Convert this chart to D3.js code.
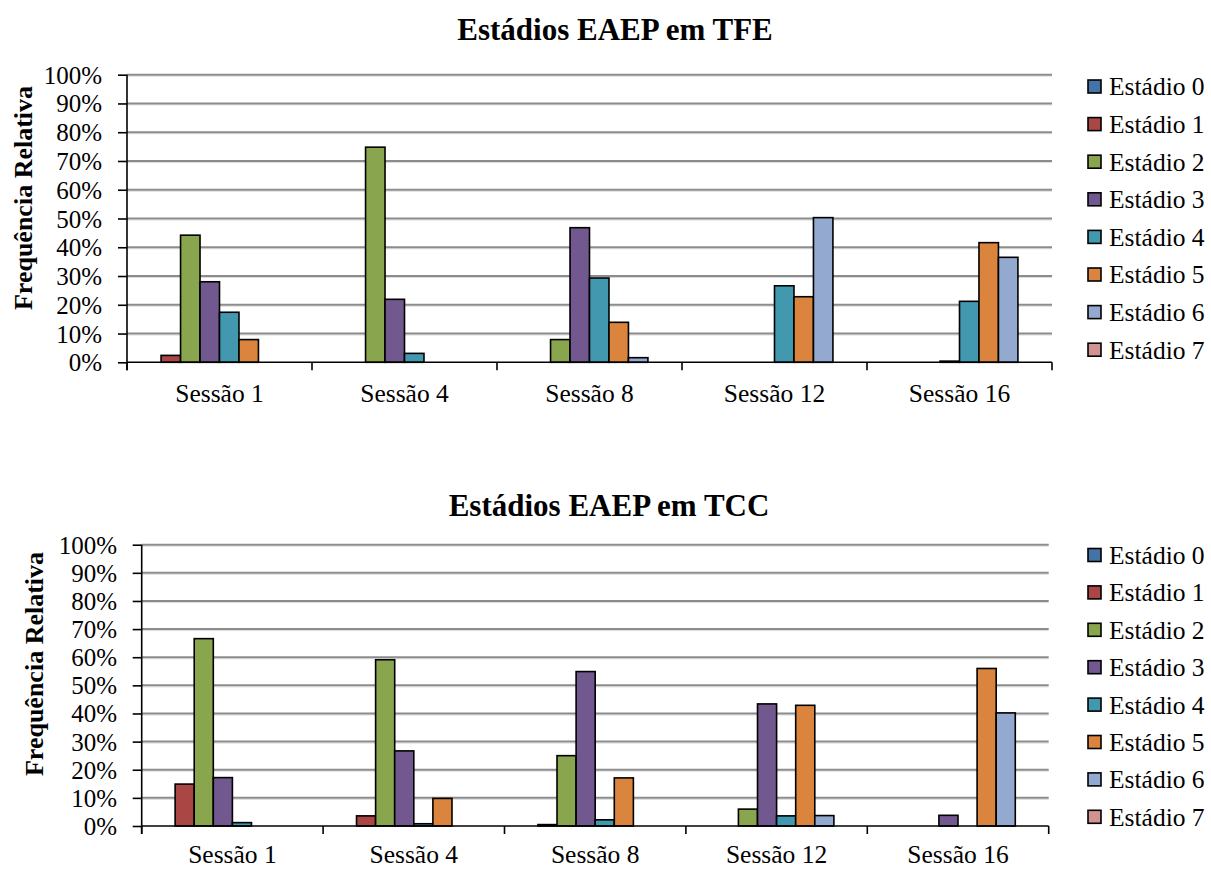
<!DOCTYPE html>
<html>
<head>
<meta charset="utf-8">
<script src="https://cdn.jsdelivr.net/npm/d3@7"></script>
<style>
  html, body { margin: 0; padding: 0; background: #fff; }
  svg { display: block; }
  svg text { font-family: "Liberation Serif", "Times New Roman", serif !important; fill: #000; }
</style>
</head>
<body>
<svg id="chart" width="1211" height="870" font-family="'Liberation Serif', 'Times New Roman', serif"></svg>
<script>
// ---------- DATA ----------
const sessions = ["Sessão 1", "Sessão 4", "Sessão 8", "Sessão 12", "Sessão 16"];
const stages = ["Estádio 0", "Estádio 1", "Estádio 2", "Estádio 3", "Estádio 4", "Estádio 5", "Estádio 6", "Estádio 7"];
const yTicks = [0, 10, 20, 30, 40, 50, 60, 70, 80, 90, 100];
const stageColors = ["#4572A7", "#AA4643", "#89A54E", "#71588F", "#4198AF", "#DB843D", "#93A9CF", "#D19392"];

// TFE: one row per stage, values per session (%)
const tfeValues = [
  [0, 0, 0, 0, 0],
  [2.4, 0, 0, 0, 0],
  [44.2, 74.8, 7.9, 0, 0],
  [28.0, 21.9, 46.8, 0, 0.4],
  [17.4, 3.1, 29.3, 26.6, 21.2],
  [7.9, 0, 13.9, 22.8, 41.6],
  [0, 0, 1.6, 50.3, 36.5],
  [0, 0, 0, 0, 0]
];
// TCC
const tccValues = [
  [0, 0, 0, 0, 0],
  [14.9, 3.6, 0.5, 0, 0],
  [66.6, 59.1, 25.0, 6.0, 0],
  [17.2, 26.7, 54.9, 43.4, 3.8],
  [1.2, 0.8, 2.2, 3.6, 0],
  [0, 9.8, 17.1, 42.9, 56.0],
  [0, 0, 0, 3.7, 40.2],
  [0, 0, 0, 0, 0]
];

// ---------- DRAW ----------
const FONT = '"Liberation Serif", "Times New Roman", serif';
const svg = d3.select("#chart");

function drawChart(cfg) {
  const g = svg.append("g").attr("font-family", FONT);
  const x = d3.scaleBand().domain(sessions).range([cfg.x0, cfg.x1]).paddingInner(0).paddingOuter(0);
  const xs = d3.scaleBand().domain(stages).range([0, x.bandwidth()]).paddingInner(0).paddingOuter(0.75);
  const y = d3.scaleLinear().domain([0, 100]).range([cfg.y1, cfg.y0]);

  // title
  g.append("text").attr("x", cfg.titleX).attr("y", cfg.titleY)
    .attr("text-anchor", "middle").attr("font-size", 31).attr("font-weight", "bold")
    .attr("font-family", FONT)
    .text(cfg.title);

  // gridlines
  const grid = g.append("g");
  yTicks.filter(t => t > 0).forEach(t => {
    grid.append("line").attr("x1", cfg.x0).attr("x2", cfg.x1)
      .attr("y1", y(t) + 1.5).attr("y2", y(t) + 1.5)
      .attr("stroke", "#dcdcdc").attr("stroke-width", 1);
    grid.append("line").attr("x1", cfg.x0).attr("x2", cfg.x1)
      .attr("y1", y(t)).attr("y2", y(t))
      .attr("stroke", "#8c8c8c").attr("stroke-width", 2);
  });

  // bars
  stages.forEach((s, si) => {
    const vals = cfg.values[si];
    g.append("g").selectAll("rect")
      .data(sessions.map((sess, i) => ({ sess, v: vals[i] })).filter(d => d.v > 0))
      .join("rect")
      .attr("x", d => x(d.sess) + xs(s))
      .attr("width", xs.bandwidth())
      .attr("y", d => y(d.v))
      .attr("height", d => y(0) - y(d.v))
      .attr("fill", stageColors[si])
      .attr("stroke", "#000")
      .attr("stroke-width", 1.6);
  });

  // y axis
  const yAxis = d3.axisLeft(y).tickValues(yTicks).tickFormat(d => d + "%").tickSize(9).tickPadding(0);
  const ya = g.append("g").attr("transform", `translate(${cfg.x0},0)`).call(yAxis);
  ya.attr("font-family", FONT);
  ya.select(".domain").attr("stroke", "#000").attr("stroke-width", 1.6)
    .attr("d", `M0,${cfg.y0}V${cfg.y1 + 8}`);
  ya.selectAll(".tick line").attr("stroke", "#000").attr("stroke-width", 1.6);
  ya.selectAll(".tick text").attr("font-size", 25)
    .attr("font-family", FONT)
    .attr("fill", "#000").attr("x", cfg.tickLabelRight - cfg.x0).attr("dy", "0.34em");

  // x axis
  const xa = g.append("g");
  xa.append("line").attr("x1", cfg.x0).attr("x2", cfg.x1).attr("y1", y(0)).attr("y2", y(0))
    .attr("stroke", "#000").attr("stroke-width", 1.6);
  const bounds = sessions.map(sname => x(sname)).concat([cfg.x1]);
  bounds.forEach(bx => {
    xa.append("line").attr("x1", bx).attr("x2", bx).attr("y1", y(0)).attr("y2", y(0) + 8)
      .attr("stroke", "#000").attr("stroke-width", 1.6);
  });
  sessions.forEach(sname => {
    xa.append("text").attr("x", x(sname) + x.bandwidth() / 2).attr("y", cfg.xLabelY)
      .attr("text-anchor", "middle").attr("font-size", 25.5).attr("font-family", FONT).text(sname);
  });

  // y label
  g.append("text")
    .attr("transform", `translate(${cfg.yLabelX},${cfg.yLabelY}) rotate(-90)`)
    .attr("text-anchor", "middle").attr("dy", "0.35em")
    .attr("font-size", 26).attr("font-weight", "bold").attr("font-family", FONT)
    .text("Frequência Relativa");

  // legend
  const lg = g.append("g");
  stages.forEach((s, si) => {
    const cy = cfg.legendY0 + si * cfg.legendStep;
    lg.append("rect").attr("x", 1088).attr("y", cy - 6.5).attr("width", 13).attr("height", 13)
      .attr("fill", stageColors[si]).attr("stroke", "#000").attr("stroke-width", 1.6);
    lg.append("text").attr("x", 1109).attr("y", cy).attr("dy", "0.35em")
      .attr("font-size", 25.5).attr("font-family", FONT).text(s);
  });
}

drawChart({
  title: "Estádios EAEP em TFE", titleX: 615, titleY: 40,
  values: tfeValues,
  x0: 127, x1: 1052, y0: 74.7, y1: 362.3,
  tickLabelRight: 102, xLabelY: 402,
  yLabelX: 23, yLabelY: 198,
  legendY0: 86.5, legendStep: 37.6
});

drawChart({
  title: "Estádios EAEP em TCC", titleX: 609, titleY: 516,
  values: tccValues,
  x0: 141.7, x1: 1048.7, y0: 544.7, y1: 826,
  tickLabelRight: 117, xLabelY: 863,
  yLabelX: 34, yLabelY: 664,
  legendY0: 555, legendStep: 37.4
});
</script>
</body>
</html>
